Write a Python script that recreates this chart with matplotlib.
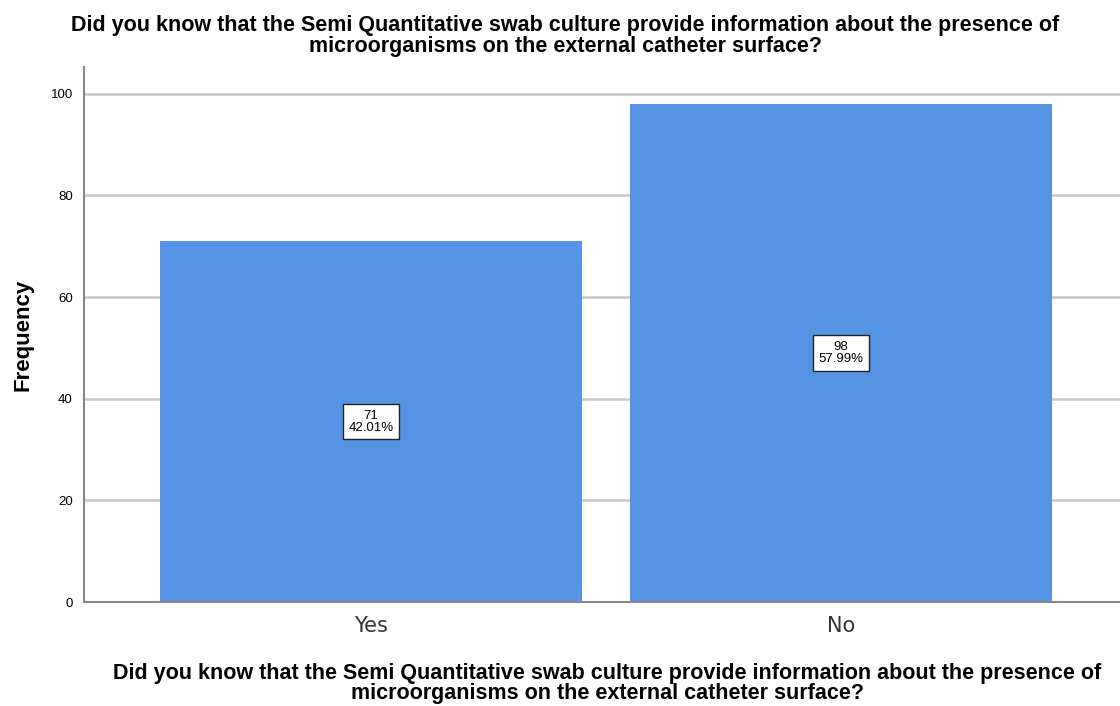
import matplotlib.pyplot as plt

categories = ['Yes', 'No']
counts = [71, 98]
percents = ['42.01%', '57.99%']

question = ("Did you know that the Semi Quantitative swab culture provide information about the presence of\n"
            "microorganisms on the external catheter surface?")

fig = plt.figure(figsize=(11.2, 7.06), dpi=100)
ax = fig.add_axes([0.075, 0.1473, 0.925, 0.758])

x = list(range(len(categories)))
ax.bar(x, counts, width=0.898, color='#5594E4', zorder=2)

# etiquetas dentro das barras
for xi, c, p in zip(x, counts, percents):
    ax.text(xi, c / 2, f"{c}\n{p}", ha='center', va='center', fontsize=9.5,
            family='Liberation Sans', linespacing=1.0, zorder=3,
            bbox=dict(boxstyle='square,pad=0.42', fc='white', ec='#222222', lw=1))

ax.set_xlim(-0.611, 1.594)
ax.set_ylim(0, 105.3)
ax.set_yticks([0, 20, 40, 60, 80, 100])
ax.yaxis.grid(True, color='#C8C8C8', linewidth=1.8, zorder=0)
ax.set_axisbelow(True)

ax.set_xticks(x)
ax.set_xticklabels(categories, fontsize=15, color='#333333', family='DejaVu Sans')
for lbl in ax.get_yticklabels():
    lbl.set_fontsize(9.5)
    lbl.set_family('Liberation Sans')
ax.tick_params(axis='both', length=0, pad=8)
ax.tick_params(axis='x', pad=10)

for s in ['top', 'right']:
    ax.spines[s].set_visible(False)
for s in ['left', 'bottom']:
    ax.spines[s].set_color('#888888')
    ax.spines[s].set_linewidth(1.5)

ax.set_ylabel('Frequency', fontsize=16, fontweight='bold', family='Liberation Sans', labelpad=12)
fig.text(0.5424, 0.003, question, ha='center', va='bottom', fontsize=15.5,
         fontweight='bold', family='Liberation Sans', linespacing=0.95)
fig.text(0.5045, 0.949, question, ha='center', va='center', fontsize=15.5,
         fontweight='bold', family='Liberation Sans', linespacing=1.0)

fig.savefig('out.png', dpi=100)
